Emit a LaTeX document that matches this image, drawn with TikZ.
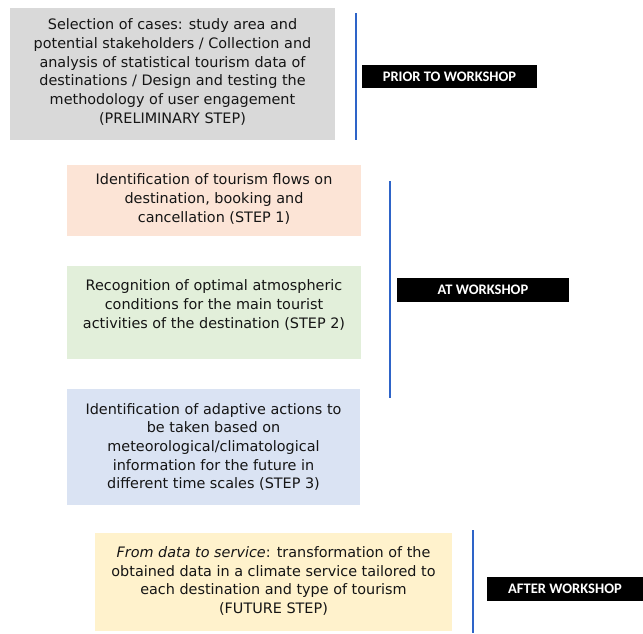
\documentclass[tikz,border=0pt]{standalone}
\usepackage{fontspec}
\setmainfont{DejaVu Sans}
\newfontfamily\labelfont{Carlito}
\definecolor{graybox}{HTML}{D9D9D9}
\definecolor{pinkbox}{HTML}{FCE4D6}
\definecolor{greenbox}{HTML}{E2EFDA}
\definecolor{bluebox}{HTML}{DAE3F3}
\definecolor{yellowbox}{HTML}{FFF2CC}
\definecolor{barblue}{HTML}{2E64C8}
\definecolor{textgray}{HTML}{151515}
\begin{document}
\begin{tikzpicture}[x=0.75pt,y=-0.75pt,
  stagebox/.style={draw=none,inner sep=0pt},
  txt/.style={align=center,font=\fontsize{10.8}{14}\selectfont,text=textgray,inner sep=0pt},
  tag/.style={fill=black,text=white,font=\labelfont\bfseries\fontsize{10.9}{12}\selectfont,inner sep=0pt},
  bar/.style={draw=barblue,line width=1.5pt}]
\useasboundingbox (0,0) rectangle (643,633);
% boxes
\node[stagebox,fill=graybox,minimum width=243.75pt,minimum height=99pt] (b0) at (172.5,74) {};
\node[stagebox,fill=pinkbox,minimum width=220.5pt,minimum height=53.25pt] (b1) at (214,200.5) {};
\node[stagebox,fill=greenbox,minimum width=220.5pt,minimum height=69.75pt] (b2) at (214,312.5) {};
\node[stagebox,fill=bluebox,minimum width=219.75pt,minimum height=87pt] (b3) at (213.5,447) {};
\node[stagebox,fill=yellowbox,minimum width=267.75pt,minimum height=73.5pt] (b4) at (273.5,582) {};
% texts
\node[txt] (t0) at (172.5,72) {Selection of cases: study area and\\potential stakeholders / Collection and\\analysis of statistical tourism data of\\destinations / Design and testing the\\methodology of user engagement\\(PRELIMINARY STEP)};
\node[txt] (t1) at (214,199) {Identification of tourism flows on\\destination, booking and\\cancellation (STEP 1)};
\node[txt] (t2) at (214,305) {Recognition of optimal atmospheric\\conditions for the main tourist\\activities of the destination (STEP 2)};
\node[txt] (t3) at (213.5,447) {Identification of adaptive actions to\\be taken based on\\meteorological/climatological\\information for the future in\\different time scales (STEP 3)};
\node[txt] (t4) at (273.5,581) {\textit{From data to service}: transformation of the\\obtained data in a climate service tailored to\\each destination and type of tourism\\(FUTURE STEP)};
% bars
\coordinate (p0a) at (355.5,13);
\coordinate (p0b) at (355.5,140);
\coordinate (p1a) at (390,181);
\coordinate (p1b) at (390,398);
\coordinate (p2a) at (473,530);
\coordinate (p2b) at (473,633);
\draw[bar] (p0a) -- (p0b);
\draw[bar] (p1a) -- (p1b);
\draw[bar] (p2a) -- (p2b);
% tags
\node[tag,minimum width=131.25pt,minimum height=17.25pt] (l0) at (449.5,76.5) {PRIOR TO WORKSHOP};
\node[tag,minimum width=129pt,minimum height=18pt] (l1) at (483,290) {AT WORKSHOP};
\node[tag,minimum width=117pt,minimum height=18pt] (l2) at (565,589) {AFTER WORKSHOP};
\end{tikzpicture}
\end{document}
